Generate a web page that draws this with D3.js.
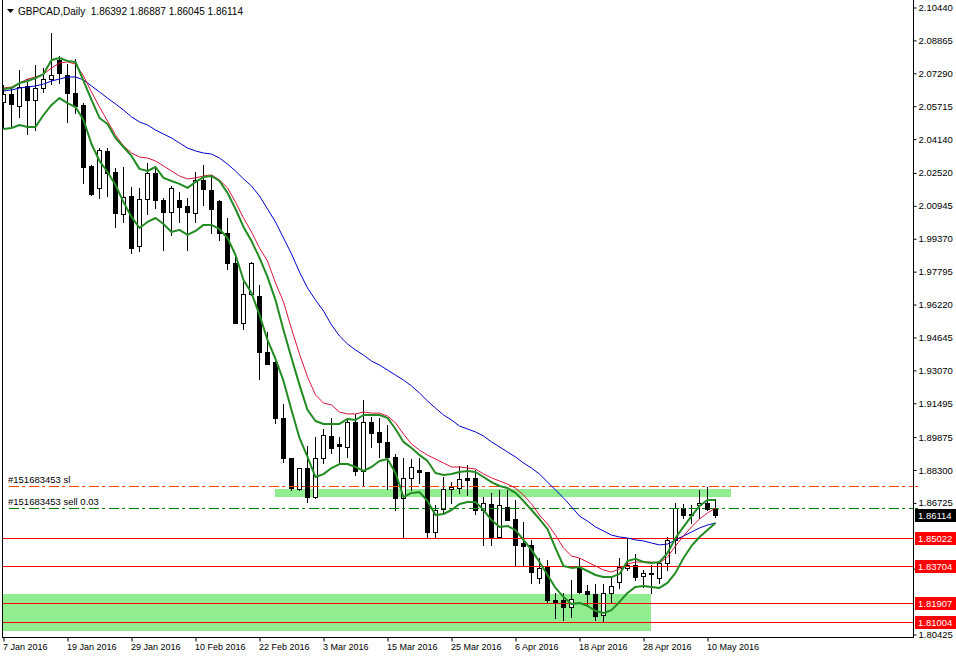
<!DOCTYPE html>
<html>
<head>
<meta charset="utf-8">
<script src="https://cdn.jsdelivr.net/npm/d3@7/dist/d3.min.js"></script>
<style>
  body { margin: 0; background: #fff; }
  svg { display: block; }
  text { font-family: "Liberation Sans", Arial, sans-serif; }
</style>
</head>
<body>
<svg id="chart" width="956" height="658"></svg>
<script>
// GBPCAD daily bars, 7 Jan 2016 .. 11 May 2016
const opens = [2.0589,2.0628,2.0570,2.0666,2.0599,2.0656,2.0699,2.0790,2.0719,2.0632,
  2.0575,2.0283,2.0178,2.0355,2.0254,2.0053,2.0139,1.9900,2.0125,2.0249,
  2.0120,2.0063,2.0120,2.0092,2.0058,2.0216,2.0168,2.0115,1.9962,1.9819,
  1.9531,1.9670,1.9661,1.9392,1.9345,1.9077,1.8885,1.8737,1.8837,1.8698,
  1.8885,1.8990,1.8952,1.8938,1.9057,1.8823,1.9057,1.9010,1.8962,1.8890,
  1.8694,1.8789,1.8828,1.8818,1.8531,1.8641,1.8737,1.8741,1.8789,1.8789,
  1.8636,1.8665,1.8507,1.8651,1.8593,1.8478,1.8469,1.8311,1.8363,1.8205,
  1.8205,1.8172,1.8359,1.8248,1.8234,1.8134,1.8239,1.8291,1.8359,1.8373,
  1.8320,1.8335,1.8311,1.8382,1.8493,1.8646,1.8612,1.8660,1.8670,1.86392];
const highs = [2.0671,2.0656,2.0742,2.0699,2.0766,2.0752,2.0920,2.0809,2.0771,2.0795,
  2.0584,2.0288,2.0369,2.0369,2.0273,2.0278,2.0182,2.0178,2.0297,2.0278,
  2.0130,2.0187,2.0158,2.0130,2.0254,2.0288,2.0240,2.0120,2.0034,1.9857,
  1.9728,1.9823,1.9713,1.9488,1.9347,1.9144,1.8887,1.8839,1.8943,1.8986,
  1.9024,1.9077,1.8986,1.9077,1.9096,1.9163,1.9081,1.9077,1.9043,1.8904,
  1.8885,1.8880,1.8885,1.8820,1.8660,1.8794,1.8770,1.8847,1.8852,1.8828,
  1.8698,1.8718,1.8732,1.8732,1.8684,1.8579,1.8493,1.8406,1.8397,1.8239,
  1.8239,1.8301,1.8406,1.8277,1.8282,1.8282,1.8311,1.8406,1.8502,1.8426,
  1.8349,1.8373,1.8387,1.8507,1.8670,1.8665,1.8660,1.8732,1.8746,1.86887];
const lows = [2.0465,2.0474,2.0518,2.0436,2.0455,2.0637,2.0675,2.0680,2.0494,2.0537,
  2.0202,2.0144,2.0130,2.0139,1.9991,2.0015,1.9866,1.9876,2.0053,2.0082,
  1.9881,1.9953,2.0015,1.9881,2.0015,2.0096,1.9962,1.9929,1.9790,1.9529,
  1.9503,1.9665,1.9263,1.9333,1.9053,1.8866,1.8732,1.8732,1.8674,1.8694,
  1.8861,1.8909,1.8861,1.8890,1.8804,1.8751,1.8938,1.8890,1.8737,1.8636,
  1.8502,1.8732,1.8765,1.8507,1.8502,1.8622,1.8670,1.8718,1.8708,1.8617,
  1.8469,1.8469,1.8502,1.8586,1.8373,1.8373,1.8287,1.8287,1.8196,1.8119,
  1.8110,1.8124,1.8239,1.8181,1.8110,1.8100,1.8191,1.8263,1.8349,1.8301,
  1.8268,1.8239,1.8287,1.8349,1.8430,1.8598,1.8574,1.8598,1.8636,1.86045];
const closes = [2.0628,2.0580,2.0661,2.0599,2.0656,2.0699,2.0719,2.0728,2.0632,2.0570,
  2.0278,2.0149,2.0360,2.0249,2.0058,2.0135,1.9890,2.0125,2.0249,2.0120,
  2.0063,2.0178,2.0087,2.0063,2.0216,2.0173,2.0077,1.9962,1.9819,1.9531,
  1.9670,1.9819,1.9392,1.9335,1.9077,1.8885,1.8741,1.8837,1.8698,1.8885,
  1.8995,1.8933,1.8943,1.9057,1.8823,1.9057,1.9005,1.8962,1.8890,1.8694,
  1.8789,1.8842,1.8818,1.8531,1.8636,1.8737,1.8746,1.8785,1.8780,1.8636,
  1.8670,1.8502,1.8660,1.8588,1.8469,1.8464,1.8339,1.8359,1.8205,1.8196,
  1.8172,1.8210,1.8244,1.8234,1.8129,1.8239,1.8272,1.8363,1.8373,1.8315,
  1.8335,1.8330,1.8382,1.8493,1.8646,1.8612,1.8617,1.8670,1.86392,1.86114];

// indicator lines
const maRed = [2.0656,2.0661,2.0680,2.0699,2.0709,2.0723,2.0752,2.0776,2.0781,2.0771,
  2.0714,2.0637,2.0565,2.0498,2.0431,2.0379,2.0345,2.0326,2.0321,2.0307,
  2.0283,2.0259,2.0235,2.0221,2.0226,2.0235,2.0240,2.0216,2.0178,2.0110,
  2.0034,1.9967,1.9890,1.9828,1.9723,1.9632,1.9503,1.9383,1.9273,1.9187,
  1.9148,1.9139,1.9105,1.9096,1.9096,1.9105,1.9100,1.9100,1.9086,1.9053,
  1.9000,1.8952,1.8923,1.8899,1.8880,1.8861,1.8842,1.8842,1.8837,1.8832,
  1.8809,1.8790,1.8775,1.8760,1.8741,1.8708,1.8665,1.8612,1.8569,1.8516,
  1.8454,1.8416,1.8406,1.8387,1.8368,1.8349,1.8339,1.8354,1.8378,1.8387,
  1.8387,1.8387,1.8382,1.8411,1.8464,1.8512,1.8555,1.8593,1.8622,1.8646];
const maBlue = [2.0642,2.0647,2.0656,2.0661,2.0666,2.0675,2.0690,2.0699,2.0709,2.0709,
  2.0695,2.0666,2.0637,2.0608,2.0580,2.0551,2.0518,2.0494,2.0479,2.0455,
  2.0436,2.0417,2.0393,2.0369,2.0355,2.0345,2.0340,2.0321,2.0292,2.0259,
  2.0221,2.0187,2.0139,2.0077,2.0015,1.9938,1.9862,1.9775,1.9699,1.9641,
  1.9589,1.9522,1.9469,1.9431,1.9402,1.9378,1.9349,1.9330,1.9306,1.9282,
  1.9258,1.9230,1.9196,1.9158,1.9124,1.9091,1.9067,1.9038,1.9024,1.9010,
  1.8990,1.8962,1.8938,1.8914,1.8890,1.8861,1.8837,1.8808,1.8770,1.8732,
  1.8694,1.8651,1.8607,1.8583,1.8555,1.8536,1.8516,1.8507,1.8502,1.8493,
  1.8488,1.8478,1.8469,1.8473,1.8493,1.8512,1.8531,1.8550,1.8564,1.8574];
const bandHigh = [2.0651,2.0656,2.0680,2.0690,2.0704,2.0723,2.0790,2.0800,2.0786,2.0781,
  2.0690,2.0599,2.0513,2.0484,2.0417,2.0374,2.0331,2.0269,2.0259,2.0278,
  2.0226,2.0211,2.0197,2.0178,2.0206,2.0230,2.0235,2.0211,2.0154,2.0077,
  1.9991,1.9924,1.9843,1.9752,1.9641,1.9498,1.9364,1.9235,1.9115,1.9062,
  1.9048,1.9048,1.9048,1.9072,1.9067,1.9091,1.9091,1.9091,1.9077,1.9024,
  1.8962,1.8933,1.8899,1.8871,1.8813,1.8804,1.8808,1.8818,1.8823,1.8818,
  1.8794,1.8770,1.8751,1.8741,1.8718,1.8679,1.8636,1.8593,1.8545,1.8454,
  1.8368,1.8359,1.8363,1.8344,1.8325,1.8315,1.8315,1.8330,1.8392,1.8402,
  1.8387,1.8382,1.8387,1.8430,1.8502,1.8555,1.8607,1.8655,1.8684,1.8684];
const bandLow = [2.0460,2.0465,2.0479,2.0470,2.0470,2.0527,2.0575,2.0608,2.0584,2.0565,
  2.0503,2.0388,2.0307,2.0254,2.0192,2.0110,2.0039,1.9986,2.0015,2.0034,
  2.0005,1.9967,1.9977,1.9953,1.9972,2.0001,2.0001,1.9981,1.9938,1.9857,
  1.9737,1.9675,1.9570,1.9450,1.9359,1.9254,1.9115,1.8981,1.8890,1.8794,
  1.8808,1.8837,1.8856,1.8856,1.8842,1.8823,1.8842,1.8871,1.8880,1.8813,
  1.8698,1.8718,1.8722,1.8679,1.8612,1.8617,1.8636,1.8665,1.8674,1.8674,
  1.8636,1.8588,1.8555,1.8560,1.8540,1.8493,1.8445,1.8387,1.8325,1.8263,
  1.8220,1.8186,1.8191,1.8177,1.8153,1.8143,1.8157,1.8196,1.8239,1.8268,
  1.8272,1.8268,1.8263,1.8287,1.8335,1.8406,1.8464,1.8507,1.8540,1.8574];

// visible price-scale labels (1.85150 and 1.82000 sit fully under the price tags)
const priceTicks = [2.10440,2.08865,2.07290,2.05715,2.04140,2.02520,2.00945,1.99370,1.97795,1.96220,
  1.94645,1.93070,1.91495,1.89875,1.88300,1.86725,1.83575,1.80425];
const dateTickBars = [0,8,16,24,32,40,48,56,64,72,80,88];
const dateTickLabels = ["7 Jan 2016","19 Jan 2016","29 Jan 2016","10 Feb 2016","22 Feb 2016","3 Mar 2016",
  "15 Mar 2016","25 Mar 2016","6 Apr 2016","18 Apr 2016","28 Apr 2016","10 May 2016"];

const levelPrices = [1.85022, 1.83704, 1.81907, 1.81004];
const orderNames = ["#151683453 sl", "#151683453 sell 0.03"];
const orderPrices = [1.8752, 1.8645];
const zoneFrom = [34, -4];
const zoneTo = [91, 81];
const zoneTop = [1.8737, 1.8234];
const zoneBottom = [1.8698, 1.8057];

const symbolName = "GBPCAD,Daily";
const lastQuote = [1.86392, 1.86887, 1.86045, 1.86114];

// ---- layout
const W = 956, H = 658;
const plotLeft = 3, plotRight = 913, plotBottom = 637;
const svg = d3.select("#chart");

const x = d3.scaleLinear().domain([0, 1]).range([3, 11]);
const y = d3.scaleLinear().domain([1.80425, 2.10440]).range([634, 7]);
const py = (v) => Math.round(y(v));

svg.append("rect").attr("width", W).attr("height", H).attr("fill", "#fff");

svg.append("clipPath").attr("id", "plotClip")
  .append("rect").attr("x", plotLeft).attr("y", 0)
  .attr("width", plotRight - plotLeft).attr("height", plotBottom);

const plot = svg.append("g").attr("clip-path", "url(#plotClip)");

// background rectangles
plot.selectAll(".zone")
  .data(zoneFrom.map((f, i) => ({ f, t: zoneTo[i], top: zoneTop[i], bot: zoneBottom[i] })))
  .enter().append("rect")
  .attr("class", "zone")
  .attr("x", (d) => x(d.f))
  .attr("y", (d) => py(d.top))
  .attr("width", (d) => x(d.t) - x(d.f))
  .attr("height", (d) => py(d.bot) - py(d.top))
  .attr("fill", "#90ee90");

// candles
const bars = opens.map((o, i) => ({ i, o, h: highs[i], l: lows[i], c: closes[i] }));
const candle = plot.selectAll(".candle").data(bars).enter().append("g")
  .attr("class", "candle");

candle.append("line")
  .attr("x1", (d) => x(d.i) + 0.5).attr("x2", (d) => x(d.i) + 0.5)
  .attr("y1", (d) => py(d.h)).attr("y2", (d) => py(d.l) + 1)
  .attr("stroke", "#000").attr("stroke-width", 1)
  .attr("shape-rendering", "crispEdges");

candle.append("rect")
  .attr("x", (d) => (d.c >= d.o ? x(d.i) - 1.5 : x(d.i) - 2))
  .attr("y", (d) => (d.c >= d.o ? py(d.c) + 0.5 : py(d.o)))
  .attr("width", (d) => (d.c >= d.o ? 4 : 5))
  .attr("height", (d) => {
    const hgt = Math.abs(py(d.o) - py(d.c));
    return d.c >= d.o ? Math.max(hgt, 1) : Math.max(hgt, 1) + 1;
  })
  .attr("fill", (d) => (d.c >= d.o ? "#fff" : "#000"))
  .attr("stroke", (d) => (d.c >= d.o ? "#000" : "none"))
  .attr("stroke-width", 1)
  .attr("shape-rendering", "crispEdges");

// horizontal levels
plot.selectAll(".level").data(levelPrices).enter().append("line")
  .attr("class", "level")
  .attr("x1", plotLeft).attr("x2", plotRight)
  .attr("y1", (d) => py(d) + 0.5).attr("y2", (d) => py(d) + 0.5)
  .attr("stroke", "#ff0000").attr("stroke-width", 1);

const orderColors = ["#ff4500", "#008000"];
plot.selectAll(".order").data(orderPrices).enter().append("line")
  .attr("class", "order")
  .attr("x1", plotLeft + 6).attr("x2", plotRight)
  .attr("y1", (d) => py(d) + 0.5).attr("y2", (d) => py(d) + 0.5)
  .attr("stroke", (d, i) => orderColors[i]).attr("stroke-width", 1)
  .attr("stroke-dasharray", "10,3,3,4");

plot.selectAll(".orderLabel").data(orderPrices).enter().append("text")
  .attr("x", 8).attr("y", (d) => py(d) - 3)
  .attr("font-size", 9.5).attr("fill", "#000")
  .text((d, i) => orderNames[i]);

// indicator lines
const line = d3.line().x((d, i) => x(i) + 0.5).y((d) => y(d));
const series = [
  { v: maBlue, color: "#0000cd", w: 1 },
  { v: maRed, color: "#dc143c", w: 1 },
  { v: bandHigh, color: "#228b22", w: 2 },
  { v: bandLow, color: "#228b22", w: 2 },
];
plot.selectAll(".ma").data(series).enter().append("path")
  .attr("class", "ma")
  .attr("d", (d) => line(d.v))
  .attr("fill", "none")
  .attr("stroke", (d) => d.color)
  .attr("stroke-width", (d) => d.w)
  .attr("stroke-linejoin", "round");

// frame
svg.append("path")
  .attr("d", `M${plotLeft - 0.5},0 V${plotBottom + 0.5} H${plotRight + 0.5} V0`)
  .attr("fill", "none").attr("stroke", "#000").attr("stroke-width", 1)
  .attr("shape-rendering", "crispEdges");

// price axis
const yAxis = d3.axisRight(y).tickValues(priceTicks).tickFormat(d3.format(".5f"))
  .tickSize(3).tickPadding(2);
const gy = svg.append("g")
  .attr("transform", `translate(${plotRight + 0.5},0.5)`)
  .call(yAxis);
gy.select(".domain").remove();
gy.selectAll("text").attr("font-size", 9.5).attr("font-family", "Liberation Sans, Arial, sans-serif")
  .attr("fill", "#000");
gy.selectAll("line").attr("stroke", "#000");

// order markers on axis
svg.selectAll(".orderMark").data(orderPrices).enter().append("line")
  .attr("x1", plotRight + 2).attr("x2", plotRight + 5)
  .attr("y1", (d) => py(d) + 0.5).attr("y2", (d) => py(d) + 0.5)
  .attr("stroke", (d, i) => orderColors[i]);

// time axis
const xAxis = d3.axisBottom(x).tickValues(dateTickBars)
  .tickFormat((d, i) => dateTickLabels[i]).tickSize(4).tickPadding(2);
const gx = svg.append("g")
  .attr("transform", `translate(0.5,${plotBottom + 0.5})`)
  .call(xAxis);
gx.select(".domain").remove();
gx.selectAll("text").attr("text-anchor", "start").attr("dx", -1)
  .attr("font-size", 9).attr("font-family", "Liberation Sans, Arial, sans-serif")
  .attr("fill", "#000");
gx.selectAll("line").attr("stroke", "#000");

// price tags
const tags = levelPrices.map((p) => ({ p, bg: "#ff0000" }))
  .concat([{ p: lastQuote[3], bg: "#000" }]);
const tag = svg.selectAll(".tag").data(tags).enter().append("g").attr("class", "tag");
tag.append("rect")
  .attr("x", plotRight + 2).attr("y", (d) => py(d.p) - 6)
  .attr("width", W - plotRight - 2).attr("height", 13)
  .attr("fill", (d) => d.bg);
tag.append("text")
  .attr("x", plotRight + 5).attr("y", (d) => py(d.p) + 0.5)
  .attr("dy", "0.35em").attr("font-size", 9.5).attr("fill", "#fff")
  .text((d) => d.p.toFixed(5));

// title
svg.append("path").attr("d", "M7,9 L14,9 L10.5,13 Z").attr("fill", "#000");
svg.append("text").attr("x", 18).attr("y", 15).attr("font-size", 10).attr("fill", "#000")
  .attr("xml:space", "preserve")
  .text(`${symbolName}  ${lastQuote.map((v) => v.toFixed(5)).join(" ")}`);
</script>
</body>
</html>
